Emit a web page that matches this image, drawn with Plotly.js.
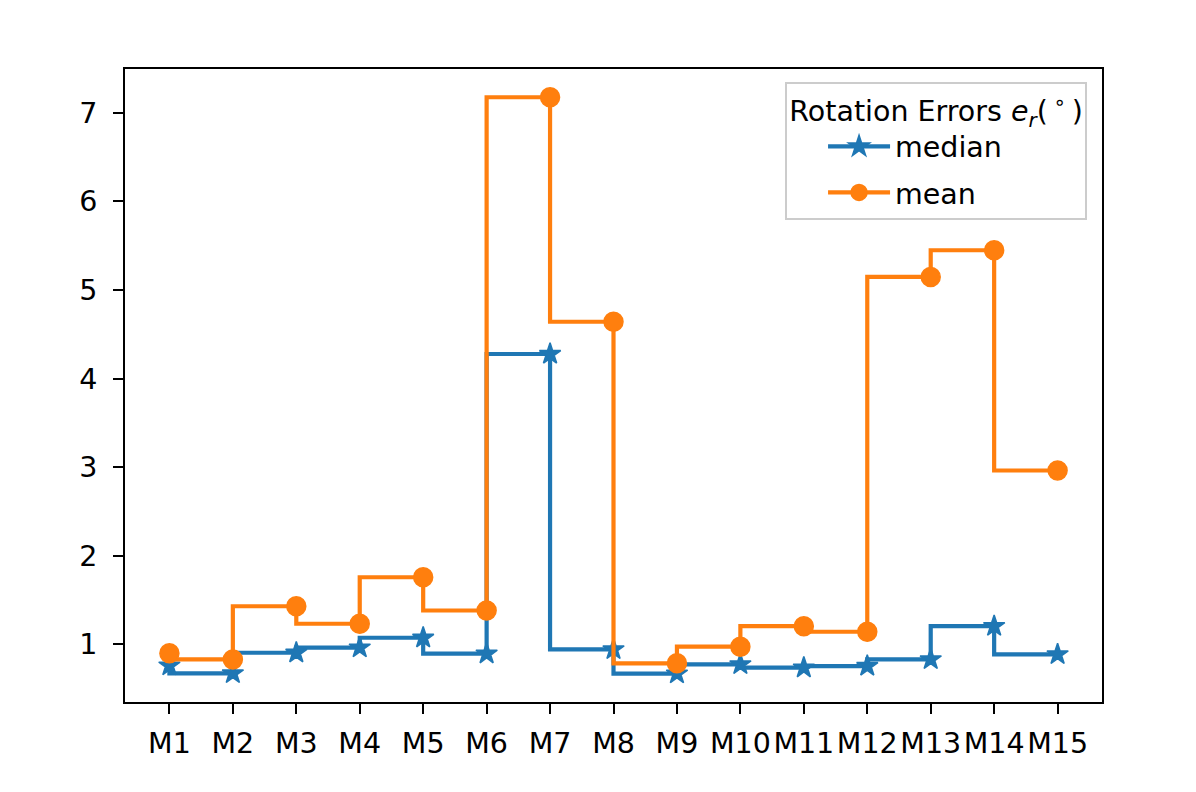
<!DOCTYPE html>
<html>
<head>
<meta charset="utf-8">
<script src="https://cdn.plot.ly/plotly-3.0.1.min.js"></script>
<style>html,body{margin:0;padding:0;background:#fff;}#chart{width:1196px;height:792px;}</style>
</head>
<body>
<div id="chart"></div>
<script>
const labels = ["M1","M2","M3","M4","M5","M6","M7","M8","M9","M10","M11","M12","M13","M14","M15"];
const medianVals = [0.76, 0.673, 0.906, 0.963, 1.075, 0.895, 4.278, 0.944, 0.67, 0.775, 0.737, 0.756, 0.831, 1.206, 0.887];
const meanVals = [0.899, 0.831, 1.431, 1.233, 1.758, 1.383, 7.176, 4.642, 0.786, 0.974, 1.206, 1.143, 5.148, 5.449, 2.963];
const xIdx = labels.map((_, i) => i);

const FONT = "DejaVu Sans, Liberation Sans, sans-serif";
const FS = 28.5;
const traces = [
  {
    x: xIdx, y: medianVals, name: "median", type: "scatter", mode: "lines+markers", legendgroup: "g1",
    line: {color: "#1f77b4", width: 4.2, shape: "vh"},
    marker: {symbol: "star", size: 16, color: "#1f77b4", line: {color: "#1f77b4", width: 1.5}}
  },
  {
    x: xIdx, y: meanVals, name: "mean", type: "scatter", mode: "lines+markers", legendgroup: "g2",
    line: {color: "#ff7f0e", width: 4.2, shape: "vh"},
    marker: {symbol: "circle", size: 19, color: "#ff7f0e", line: {color: "#ff7f0e", width: 1.5}}
  }
];

const layout = {
  width: 1196, height: 792,
  margin: {l: 125, r: 94, t: 69, b: 90, pad: 0},
  paper_bgcolor: "#ffffff", plot_bgcolor: "#ffffff",
  font: {family: FONT, size: FS, color: "#000"},
  showlegend: true,
  xaxis: {
    range: [-0.7, 14.7], tickmode: "array", tickvals: xIdx, ticktext: labels,
    showgrid: false, zeroline: false, showline: true, mirror: true, linecolor: "#000", linewidth: 2,
    ticks: "outside", ticklen: 10, tickwidth: 2, tickcolor: "#000",
    tickfont: {family: FONT, size: FS, color: "#000"}, ticklabelstandoff: 5
  },
  yaxis: {
    range: [0.35, 7.495], tickmode: "array", tickvals: [1,2,3,4,5,6,7], ticktext: ["1","2","3","4","5","6","7"],
    showgrid: false, zeroline: false, showline: true, mirror: true, linecolor: "#000", linewidth: 2,
    ticks: "outside", ticklen: 10, tickwidth: 2, tickcolor: "#000",
    tickfont: {family: FONT, size: FS, color: "#000"}, ticklabelstandoff: 10
  },
  legend: {
    x: 0.9847, y: 0.979, xanchor: "right", yanchor: "top",
    bgcolor: "rgba(255,255,255,0.8)", bordercolor: "#cccccc", borderwidth: 2,
    font: {family: FONT, size: FS, color: "#000"},
    title: {text: "Rotation Errors <i>e<sub>r</sub></i>(\u2009<sup>∘</sup>\u2009)", side: "top center", font: {family: FONT, size: FS, color: "#000"}},
    itemwidth: 62, tracegroupgap: 6, indentation: 36,
    entrywidth: 300, entrywidthmode: "pixels"
  }
};

Plotly.newPlot("chart", traces, layout, {staticPlot: true, displayModeBar: false});
</script>
</body>
</html>
